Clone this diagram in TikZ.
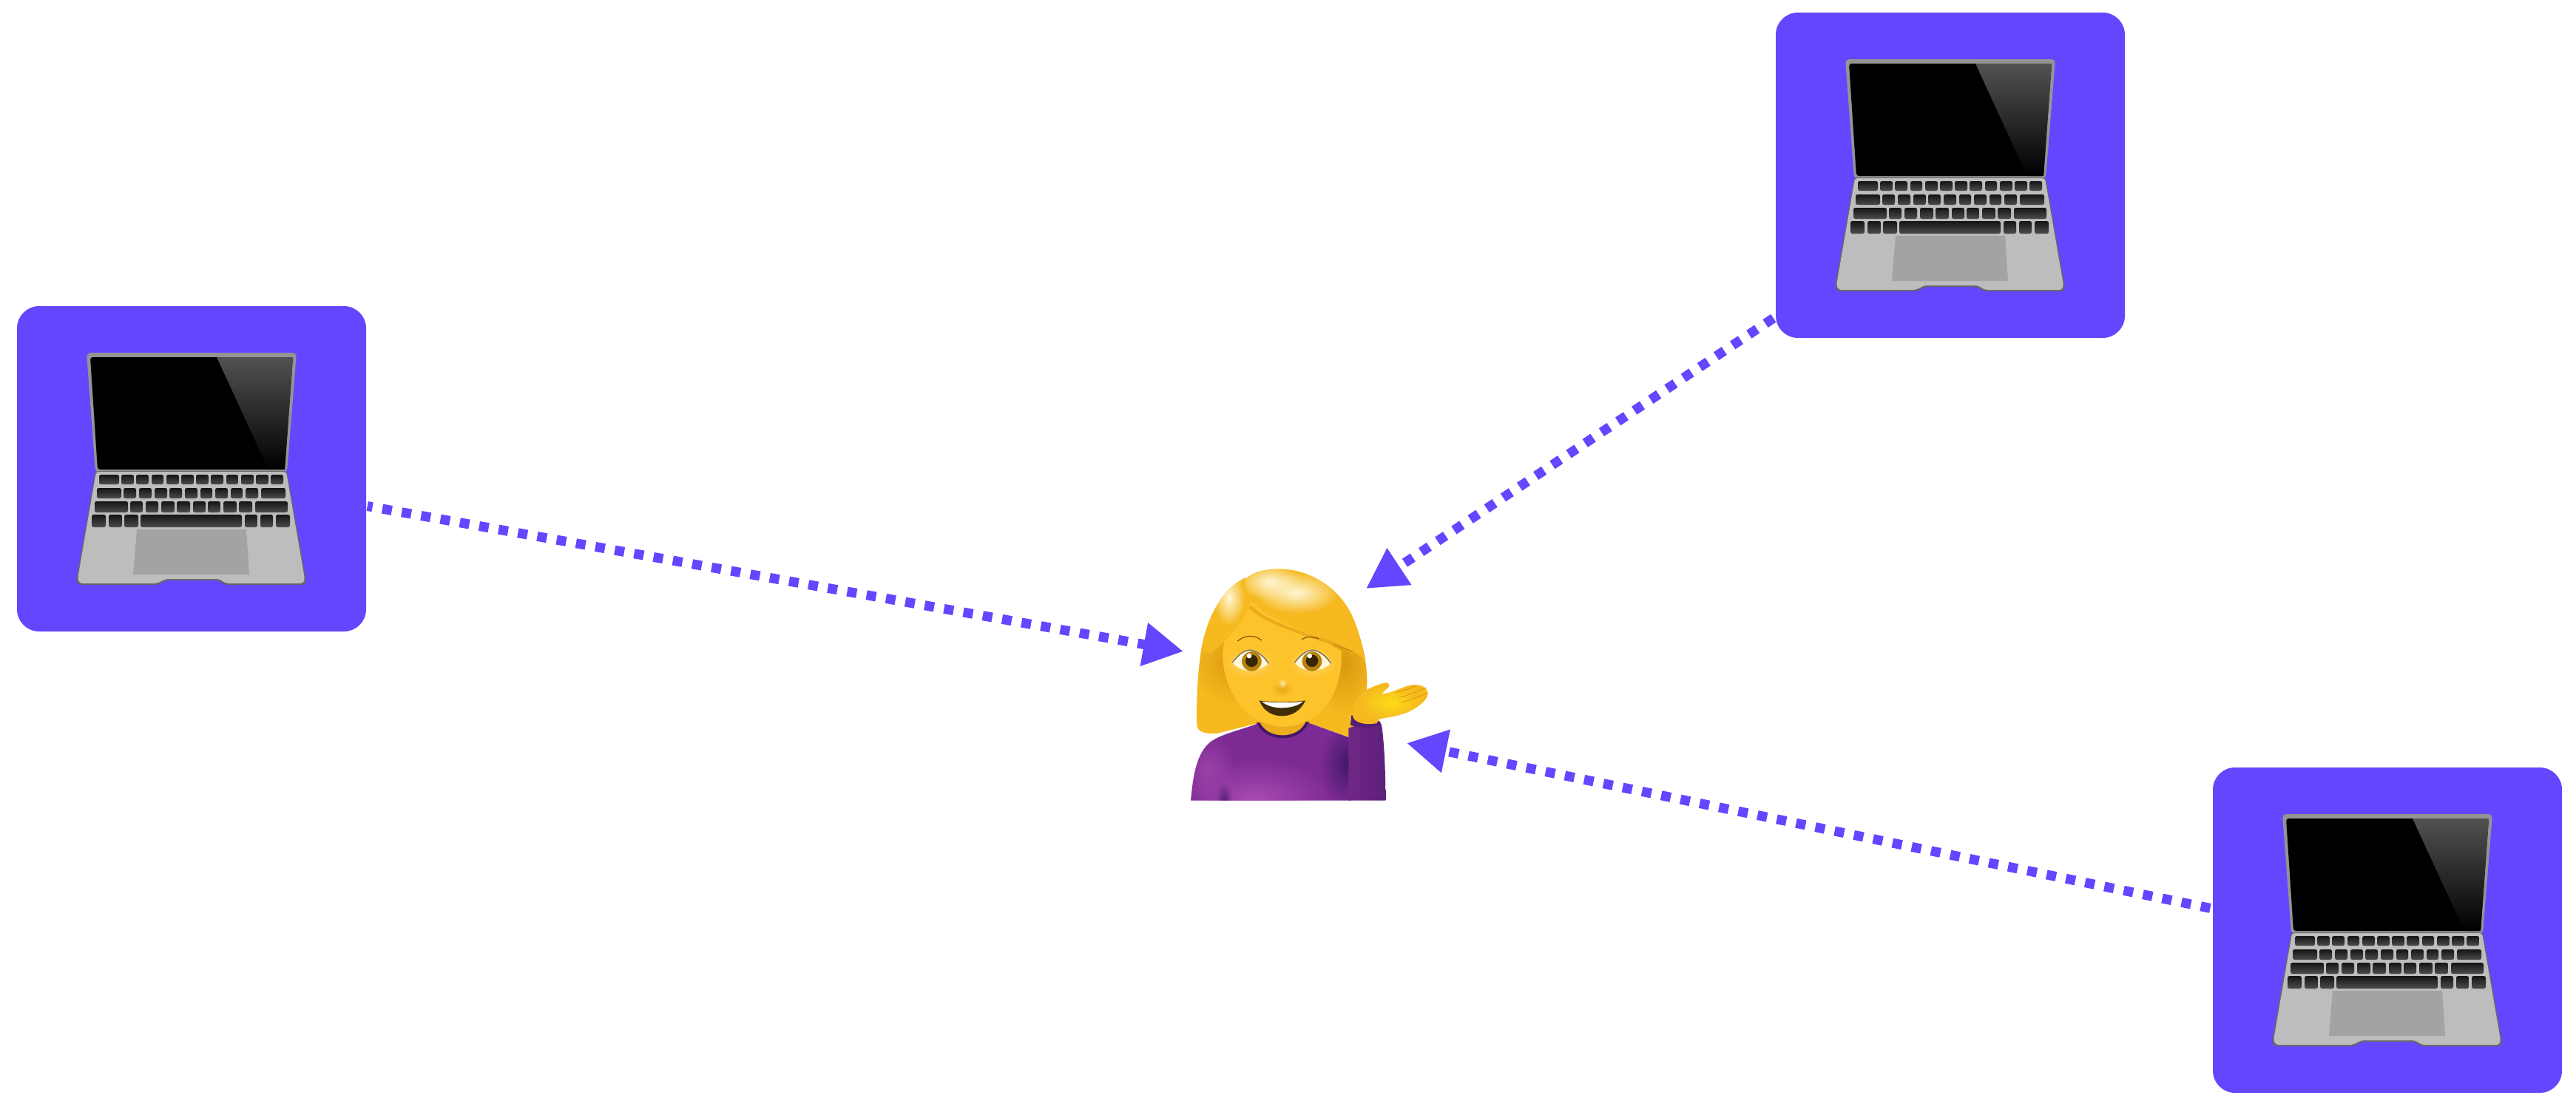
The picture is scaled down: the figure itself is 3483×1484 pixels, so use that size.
\documentclass[tikz,border=0pt]{standalone}
\usepackage{xcolor}
\usetikzlibrary{arrows.meta,fadings}

\definecolor{boxpurple}{HTML}{6446FF}
\definecolor{hair}{HTML}{F6B91F}
\definecolor{hairdark}{HTML}{D9980F}
\definecolor{haircream}{HTML}{FFF7D6}
\definecolor{skin}{HTML}{FDC32B}
\definecolor{sweater}{HTML}{7D2B94}
\definecolor{sweaterlight}{HTML}{AB4CB4}
\definecolor{sweaterdark}{HTML}{431868}

\tikzfading[name=softglow, inner color=transparent!0, outer color=transparent!100]

\tikzset{
  laptopbox/.style={fill=boxpurple, rounded corners=8.5pt, minimum width=47.2mm, minimum height=44mm, inner sep=0pt},
  flow/.style={boxpurple, line width=1.3mm, dash pattern=on 1.3mm off 1.36mm, shorten <=0.3mm, -{Triangle[length=5.4mm,width=5.6mm]}},
  keycap/.style={rounded corners=0.7pt, top color=black!92, bottom color=black!70},
  glow/.style={path fading=softglow},
  laptop/.pic={
    % lid
    \fill[black!42, rounded corners=1.5pt] (-142,-157) -- (142,-157) -- (129,5) -- (-130,5) -- cycle;
    \fill[black, rounded corners=1pt] (-137,-151) -- (137,-151) -- (126,1) -- (-127,1) -- cycle;
    \shade[top color=black!68, bottom color=black] (34,-151) -- (137,-151) -- (126,1) -- (104,1) -- cycle;
    % base
    \fill[black!60, rounded corners=1pt] (-130,3) -- (129,3) -- (155,151) -- (153,157) -- (46,157) -- (36,151) -- (-34,151) -- (-46,157) -- (-153,157) -- (-156,151) -- cycle;
    \fill[black!26, rounded corners=1pt] (-129,4) -- (128,4) -- (153,149) -- (151,155) -- (47,155) -- (37,149) -- (-35,149) -- (-47,155) -- (-151,155) -- (-154,149) -- cycle;
    \fill[black!36] (-74,82) -- (74,82) -- (78,143) -- (-79,143) -- cycle;
    % keys
    \foreach \xa/\xb in {-125/-98,-95/-78,-75/-58,-54/-38,-34/-17,-14/3,6/23,26/43,47/63,67/84,87/104,107/124}
      \shade[keycap] (\xa,8) rectangle (\xb,21);
    \foreach \xa/\xb in {-128/-95,-92/-75,-71/-54,-50/-33,-30/-13,-9/8,12/28,32/49,53/69,73/90,94/127}
      \shade[keycap] (\xa,26) rectangle (\xb,40);
    \foreach \xa/\xb in {-131/-86,-83/-66,-62/-45,-41/-23,-20/-2,2/19,22/39,43/61,64/82,86/130}
      \shade[keycap] (\xa,44) rectangle (\xb,59);
    \foreach \xa/\xb in {-135/-116,-112/-94,-91/-72,-69/68,72/89,93/110,114/133}
      \shade[keycap] (\xa,62) rectangle (\xb,79);
  },
  woman/.pic={
    \begin{scope}[x=0.03333mm, y=-0.03333mm, shift={(-690,-558)}]
      % hair behind the face
      \path[save path=\hairpath] (430,125) .. controls (340,165) and (280,280) .. (255,400) .. controls (238,500) and (232,620) .. (235,725)
        .. controls (240,750) and (270,760) .. (320,755) -- (480,715) -- (680,710) -- (850,770)
        .. controls (880,700) and (925,640) .. (925,550) .. controls (925,460) and (905,380) .. (870,290) -- cycle;
      \fill[hair, use path=\hairpath];
      \begin{scope}
        \clip[use path=\hairpath];
        \fill[hairdark, glow] (400,470) ellipse [x radius=190, y radius=170];
        \fill[hairdark, glow] (830,470) ellipse [x radius=130, y radius=210];
      \end{scope}
      % sweater
      \path[save path=\bodypath] (480,716) .. controls (420,740) and (340,755) .. (290,790)
        .. controls (235,835) and (220,920) .. (210,1028) -- (860,1028) -- (860,775) -- (680,710) -- cycle;
      \fill[sweater, use path=\bodypath];
      \begin{scope}
        \clip[use path=\bodypath];
        \fill[sweaterlight, glow] (470,1030) ellipse [x radius=320, y radius=170];
        \fill[sweaterlight!70!sweater, glow] (280,900) ellipse [x radius=110, y radius=140];
        \fill[sweaterdark, glow] (850,880) ellipse [x radius=120, y radius=170];
        \fill[sweaterdark!80!sweater, glow] (345,1040) ellipse [x radius=35, y radius=85];
      \end{scope}
      \shade[left color=sweater!90!black, middle color=sweaterlight!55!sweater, right color=sweaterdark!55!sweater] (850,735) .. controls (890,715) and (960,715) .. (985,725) .. controls (995,800) and (1000,900) .. (1000,1028) -- (850,1028) -- cycle;
      % neck
      \fill[sweaterdark] (476,712) .. controls (510,792) and (650,802) .. (690,708) -- cycle;
      \fill[hairdark!50!skin] (488,705) .. controls (515,780) and (645,785) .. (678,705) -- cycle;
      % face
      \fill[skin] (340,440) .. controls (340,330) and (400,240) .. (455,220) -- (820,420)
        .. controls (830,560) and (760,725) .. (585,728) .. controls (420,725) and (340,560) .. (340,440) -- cycle;
      \fill[haircream!45!skin, glow] (452,470) ellipse [x radius=100, y radius=60];
      \fill[haircream!45!skin, glow] (705,470) ellipse [x radius=100, y radius=60];
      \draw[hairdark!55!skin, line width=1.2pt] (450,240) .. controls (500,295) and (600,325) .. (650,345) .. controls (720,375) and (800,385) .. (872,430);
      % lobe on the left
      \path[save path=\lobepath] (290,430) .. controls (350,385) and (425,310) .. (450,230) -- (430,125) .. controls (340,165) and (270,290) .. (255,420) -- cycle;
      \fill[hair, use path=\lobepath];
      \begin{scope}
        \clip[use path=\lobepath];
        \fill[haircream, glow] (365,205) ellipse [x radius=65, y radius=115];
      \end{scope}
      % fringe
      \path[save path=\fringepath] (430,130) .. controls (470,95) and (520,88) .. (570,88) .. controls (700,90) and (820,170) .. (870,290)
        .. controls (890,340) and (905,400) .. (912,450) -- (872,425) .. controls (800,380) and (710,360) .. (640,330)
        .. controls (540,290) and (425,230) .. (430,130) -- cycle;
      \fill[hair, use path=\fringepath];
      \begin{scope}
        \clip[use path=\fringepath];
        \fill[haircream, glow] (530,140) ellipse [x radius=130, y radius=75];
        \fill[haircream, glow] (640,185) ellipse [x radius=170, y radius=85];
      \end{scope}
      % brows
      \draw[hairdark!60!black, line width=0.35pt] (400,381) .. controls (430,355) and (470,355) .. (497,378);
      \draw[hairdark!60!black, line width=0.35pt] (660,375) .. controls (680,360) and (705,362) .. (730,372);
      \draw[hairdark!80!black, line width=0.25pt] (790,395) -- (870,425);
      % eyes
      \foreach \ex/\eirx in {452/457,705/702} {
        \fill[haircream] (\ex-73,468) .. controls (\ex-40,425) and (\ex-15,415) .. (\ex+5,418) .. controls (\ex+35,425) and (\ex+60,450) .. (\ex+73,472)
          .. controls (\ex+40,505) and (\ex-40,515) .. (\ex-73,468) -- cycle;
        \draw[black!60, line width=0.35pt] (\ex-73,468) .. controls (\ex-40,425) and (\ex-15,415) .. (\ex+5,418) .. controls (\ex+35,425) and (\ex+60,450) .. (\ex+73,472);
        \fill[hairdark!85!black] (\eirx,463) circle [radius=40];
        \fill[black!75!hairdark] (\eirx,461) circle [radius=25];
        \fill[white] (\eirx-10,441) circle [radius=10];
      }
      % nose
      \fill[hairdark!60!skin, glow] (582,575) ellipse [x radius=48, y radius=32];
      \fill[haircream!70!skin, glow] (582,552) circle [radius=20];
      % mouth
      \fill[black!70!hairdark] (488,622) .. controls (530,630) and (630,630) .. (675,622) .. controls (655,665) and (620,685) .. (580,685) .. controls (540,685) and (505,665) .. (488,622) -- cycle;
      \fill[white] (498,626) .. controls (540,632) and (625,632) .. (666,626) .. controls (650,640) and (620,652) .. (580,652) .. controls (545,652) and (515,642) .. (498,626) -- cycle;
      % hand
      \fill[sweaterdark!70!sweater] (862,682) -- (975,705) -- (985,722) .. controls (950,735) and (890,735) .. (858,722) -- cycle;
      \path[save path=\handpath] (868,690) .. controls (865,640) and (885,600) .. (925,578) .. controls (950,565) and (975,555) .. (1000,550)
        .. controls (1020,550) and (1020,565) .. (1005,575) -- (985,595) .. controls (1020,595) and (1060,570) .. (1100,560)
        .. controls (1130,555) and (1165,560) .. (1172,590) .. controls (1175,615) and (1140,645) .. (1100,665)
        .. controls (1060,685) and (1010,690) .. (975,697) -- (965,714) .. controls (930,722) and (880,717) .. (868,690) -- cycle;
      \fill[hair, use path=\handpath];
      \begin{scope}
        \clip[use path=\handpath];
        \fill[skin!60!yellow, glow] (1020,630) ellipse [x radius=130, y radius=70];
      \end{scope}
      \draw[hairdark, line width=0.25pt] (1040,590) .. controls (1080,580) and (1110,570) .. (1125,562);
      \draw[hairdark, line width=0.25pt] (1055,610) .. controls (1095,600) and (1130,585) .. (1165,570);
      \draw[hairdark, line width=0.25pt] (1065,630) .. controls (1100,620) and (1140,605) .. (1168,592);
    \end{scope}
  }
}

\begin{document}
\begin{tikzpicture}[x=0.1mm, y=-0.1mm]
  \useasboundingbox (0,0) rectangle (3483,1484);

  \node[laptopbox] (laptopA) at (259,634) {};
  \node[laptopbox] (laptopB) at (2637,237) {};
  \node[laptopbox] (laptopC) at (3228,1258) {};
  \node[minimum width=32mm, minimum height=31.4mm, inner sep=0pt] (woman) at (1770,926) {};

  \pic at (laptopA) {laptop};
  \pic at (laptopB) {laptop};
  \pic at (laptopC) {laptop};
  \pic at (woman) {woman};

  \coordinate (tipA) at (1600,881);
  \coordinate (tipB) at (1847,796);
  \coordinate (tipC) at (1902,1005);

  \draw[flow, shorten <=0.1mm, dash phase=0.6mm] (laptopA.348) -- (tipA);
  \draw[flow] (laptopB.219) -- (tipB);
  \draw[flow] (laptopC.173) -- (tipC);
\end{tikzpicture}
\end{document}
